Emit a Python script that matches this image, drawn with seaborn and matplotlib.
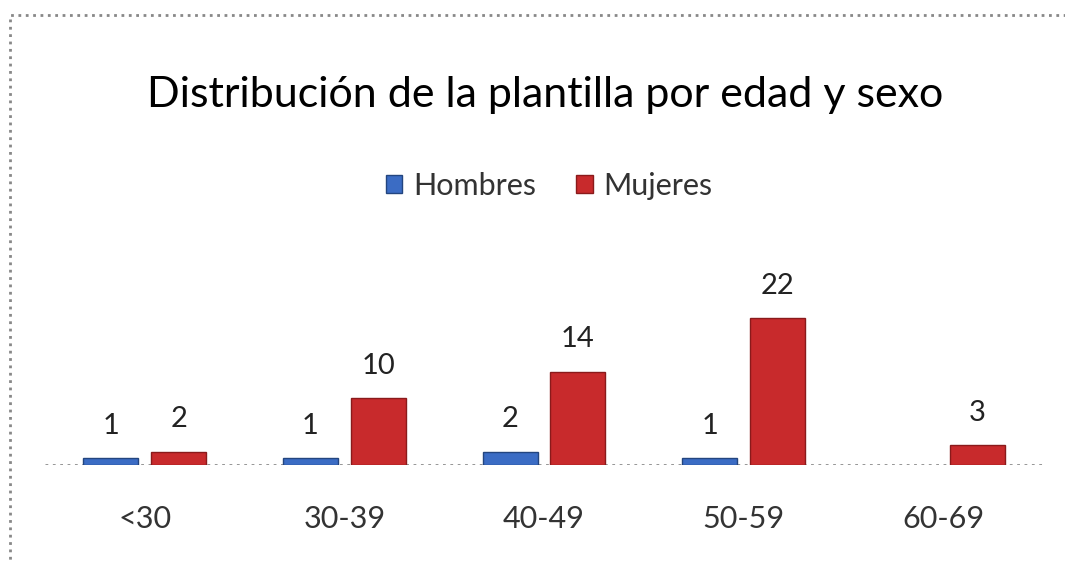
import pandas as pd
import seaborn as sns
import matplotlib.pyplot as plt
from matplotlib.patches import Rectangle

# Data
grupos = ['<30', '30-39', '40-49', '50-59', '60-69']
hombres = [1, 1, 2, 1, None]
mujeres = [2, 10, 14, 22, 3]

azul = '#3b6cc4'
rojo = '#c82a2c'

df = pd.DataFrame({
    'edad': grupos * 2,
    'sexo': ['Hombres'] * len(grupos) + ['Mujeres'] * len(grupos),
    'n': hombres + mujeres,
}).dropna()

sns.set_theme(style='white')
plt.rcParams['font.family'] = ['Lato', 'DejaVu Sans']

fig = plt.figure(figsize=(10.65, 5.61), dpi=100)
ax = fig.add_axes([0.0423, 0.1711, 0.937, 0.3832])

sns.barplot(data=df, x='edad', y='n', hue='sexo', order=grupos,
            hue_order=['Hombres', 'Mujeres'],
            palette={'Hombres': azul, 'Mujeres': rojo}, saturation=1,
            width=0.68, gap=0.19, linewidth=0, legend=False, ax=ax)

# darker outline like the 3D-ish bars of the original
for cont, borde in zip(ax.containers, ['#23457f', '#8a1a1b']):
    for bar in cont:
        bar.set_edgecolor(borde)
        bar.set_linewidth(1)

for cont in ax.containers:
    ax.bar_label(cont, fmt='%d', padding=14, fontsize=21, color='#222222')

ax.set_ylim(0, 32.2)
ax.set_xlim(-0.5, 4.5)
ax.set_xlabel('')
ax.set_ylabel('')
ax.set_yticks([])
sns.despine(ax=ax, left=True, bottom=True)
ax.axhline(0, color='#8c8c8c', lw=2, ls=':', zorder=0.5)
ax.tick_params(axis='x', length=0, pad=29, labelsize=22, labelcolor='#333333')

fig.text(545 / 1065, 1 - 95 / 561, 'Distribución de la plantilla por edad y sexo',
         ha='center', va='center', fontsize=31, color='black')

handles = [Rectangle((0, 0), 1, 1, facecolor=azul, edgecolor='#23457f'),
           Rectangle((0, 0), 1, 1, facecolor=rojo, edgecolor='#8a1a1b')]
fig.legend(handles, ['Hombres', 'Mujeres'], loc='center',
           bbox_to_anchor=(549 / 1065, 1 - 186 / 561), ncol=2, frameon=False,
           fontsize=22, handlelength=0.55, handleheight=0.55, handletextpad=0.35,
           columnspacing=1.3, labelcolor='#333333')

# dotted frame around the chart
fig.patches.append(Rectangle((10 / 1065, -0.1), 1.2, 1 - 15 / 561 + 0.1,
                             transform=fig.transFigure, fill=False,
                             edgecolor='#888888', lw=2, ls=':'))

fig.savefig('out.png', dpi=100)
